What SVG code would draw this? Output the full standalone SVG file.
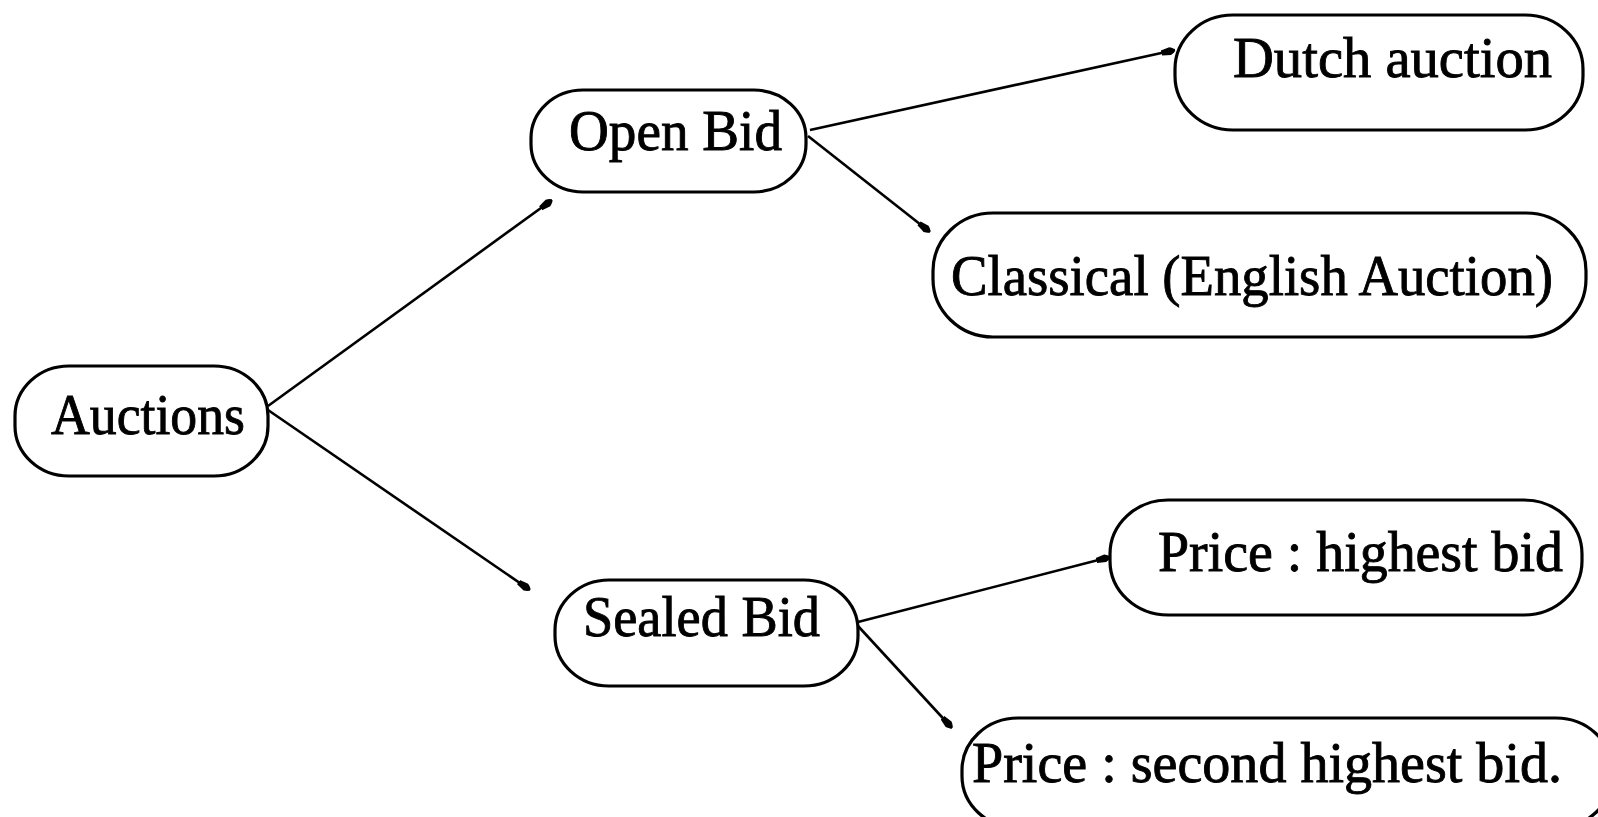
<svg xmlns="http://www.w3.org/2000/svg" width="1598" height="817" viewBox="0 0 1598 817">
  <style>
    .box { fill: #ffffff; stroke: #000000; stroke-width: 3.2; }
    .lbl { font-family: "Liberation Serif", "Times New Roman", serif; font-size: 57px; fill: #000000; stroke: #000000; stroke-width: 0.9; }
    .conn { stroke: #000000; stroke-width: 2.6; fill: none; marker-end: url(#arr); }
  </style>
  <defs>
    <marker id="arr" markerUnits="userSpaceOnUse" markerWidth="16" markerHeight="12" refX="14" refY="6" orient="auto">
      <path d="M0,3.5 L9,2 Q14,4 14,6 Q14,8 9,10 L0,8.5 Z" fill="#000000"/>
    </marker>
  </defs>
  <rect width="1598" height="817" fill="#ffffff"/>

  <g id="connectors">
    <line class="conn" x1="268" y1="406" x2="552" y2="200"/>
    <line class="conn" x1="268" y1="410" x2="530" y2="590"/>
    <line class="conn" x1="810" y1="130" x2="1175" y2="50"/>
    <line class="conn" x1="808" y1="136" x2="930" y2="232"/>
    <line class="conn" x1="858" y1="622" x2="1110" y2="557"/>
    <line class="conn" x1="858" y1="626" x2="952" y2="728"/>
  </g>

  <g id="node-auctions">
    <rect class="box" x="15" y="366" width="253" height="110" rx="54" ry="50"/>
    <text class="lbl" x="51" y="434" textLength="194" lengthAdjust="spacingAndGlyphs">Auctions</text>
  </g>
  <g id="node-open-bid">
    <rect class="box" x="531" y="90" width="275" height="102" rx="52" ry="48"/>
    <text class="lbl" x="569" y="150" textLength="213" lengthAdjust="spacingAndGlyphs">Open Bid</text>
  </g>
  <g id="node-sealed-bid">
    <rect class="box" x="555" y="580" width="303" height="106" rx="54" ry="50"/>
    <text class="lbl" x="583" y="636" textLength="237" lengthAdjust="spacingAndGlyphs">Sealed Bid</text>
  </g>
  <g id="node-dutch">
    <rect class="box" x="1175" y="15" width="408" height="115" rx="58" ry="54"/>
    <text class="lbl" x="1233" y="77" textLength="319" lengthAdjust="spacingAndGlyphs">Dutch auction</text>
  </g>
  <g id="node-classical">
    <rect class="box" x="933" y="213" width="653" height="124" rx="60" ry="58"/>
    <text class="lbl" x="951" y="295" textLength="602" lengthAdjust="spacingAndGlyphs">Classical (English Auction)</text>
  </g>
  <g id="node-highest">
    <rect class="box" x="1110" y="500" width="472" height="115" rx="58" ry="54"/>
    <text class="lbl" x="1158" y="571" textLength="405" lengthAdjust="spacingAndGlyphs">Price : highest bid</text>
  </g>
  <g id="node-second">
    <rect class="box" x="962" y="718" width="650" height="110" rx="56" ry="52"/>
    <text class="lbl" x="972" y="782" textLength="590" lengthAdjust="spacingAndGlyphs">Price : second highest bid.</text>
  </g>
</svg>
